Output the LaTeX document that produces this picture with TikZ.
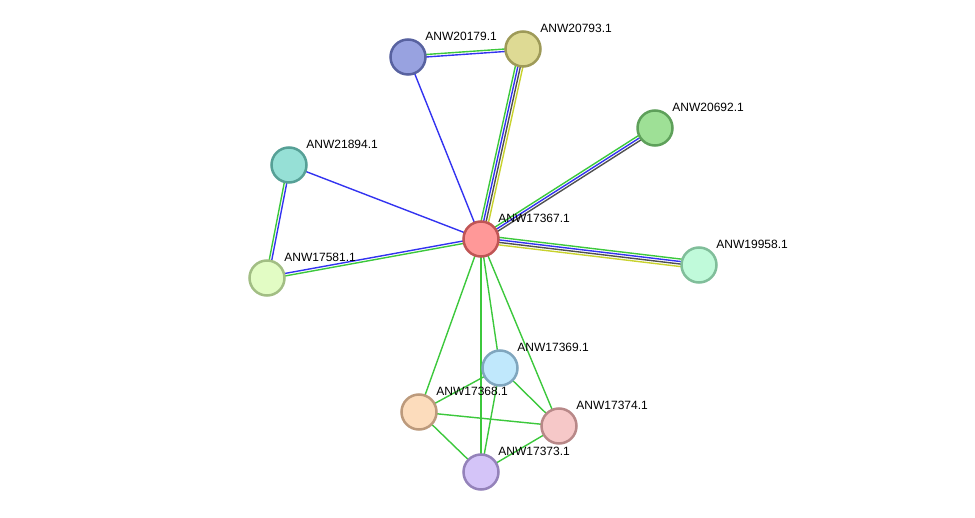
\documentclass[tikz,border=0pt]{standalone}
\usepackage{fontspec}
\setmainfont{Liberation Sans}
\usetikzlibrary{calc, backgrounds}

% link colours
\definecolor{lkgreen}{HTML}{3CC83C}
\definecolor{lkblue}{HTML}{3333F0}
\definecolor{lkdark}{HTML}{505050}
\definecolor{lkyellow}{HTML}{C8D22D}
% node colours (fill, border)
\definecolor{f17367}{HTML}{FF9898}\definecolor{d17367}{HTML}{C05555}
\definecolor{f20179}{HTML}{98A2E0}\definecolor{d20179}{HTML}{5862A0}
\definecolor{f20793}{HTML}{DEDA94}\definecolor{d20793}{HTML}{9E9A58}
\definecolor{f20692}{HTML}{9EE096}\definecolor{d20692}{HTML}{5EA05A}
\definecolor{f21894}{HTML}{96E0D6}\definecolor{d21894}{HTML}{56A096}
\definecolor{f17581}{HTML}{E2FCC4}\definecolor{d17581}{HTML}{A2BE84}
\definecolor{f19958}{HTML}{C0FADA}\definecolor{d19958}{HTML}{80BE9A}
\definecolor{f17369}{HTML}{C0E8FC}\definecolor{d17369}{HTML}{80A6BE}
\definecolor{f17368}{HTML}{FCDCBC}\definecolor{d17368}{HTML}{BC9A7C}
\definecolor{f17374}{HTML}{F6C8C8}\definecolor{d17374}{HTML}{B88888}
\definecolor{f17373}{HTML}{D4C4F8}\definecolor{d17373}{HTML}{9482BA}

\tikzset{
  prot/.style 2 args={circle, minimum size=35pt, inner sep=0pt, line width=2.5pt, fill=#1, draw=#2},
  link/.style={line width=1.4pt},
  lbl/.style={font=\fontsize{12}{14}\selectfont, inner sep=0pt, xshift=4pt, yshift=3pt}
}
% one strand of a link, shifted sideways by #3
\newcommand{\strand}[4]{\draw[link, #4] ($(#1)!#3!90:(#2)$) -- ($(#2)!#3!-90:(#1)$);}

\begin{document}
\begin{tikzpicture}[x=1pt, y=-1pt]
    \useasboundingbox (0,0) rectangle (975,518);
    \node[prot={f17367}{d17367}, label={[lbl]45:ANW17367.1}](n17367) at (481,239){};
    \node[prot={f20179}{d20179}, label={[lbl]45:ANW20179.1}](n20179) at (408,57){};
    \node[prot={f20793}{d20793}, label={[lbl]45:ANW20793.1}](n20793) at (523,49){};
    \node[prot={f20692}{d20692}, label={[lbl]45:ANW20692.1}](n20692) at (655,128){};
    \node[prot={f21894}{d21894}, label={[lbl]45:ANW21894.1}](n21894) at (289,165){};
    \node[prot={f17581}{d17581}, label={[lbl]45:ANW17581.1}](n17581) at (267,278){};
    \node[prot={f19958}{d19958}, label={[lbl]45:ANW19958.1}](n19958) at (699,265){};
    \node[prot={f17369}{d17369}, label={[lbl]45:ANW17369.1}](n17369) at (500,368){};
    \node[prot={f17368}{d17368}, label={[lbl]45:ANW17368.1}](n17368) at (419,412){};
    \node[prot={f17374}{d17374}, label={[lbl]45:ANW17374.1}](n17374) at (559,426){};
    \node[prot={f17373}{d17373}, label={[lbl]45:ANW17373.1}](n17373) at (481,472){};
    \begin{pgfonlayer}{background}
        \strand{n20179}{n20793}{1.25pt}{lkgreen}
        \strand{n20179}{n20793}{-1.25pt}{lkblue}
        \strand{n20179}{n17367}{0pt}{lkblue}
        \foreach \o/\c in {3.75pt/lkgreen, 1.25pt/lkblue, -1.25pt/lkdark, -3.75pt/lkyellow}{
            \strand{n17367}{n20793}{\o}{\c}
            \strand{n17367}{n19958}{\o}{\c}
        }
        \foreach \o/\c in {2.5pt/lkgreen, 0pt/lkblue, -2.5pt/lkdark}{
            \strand{n17367}{n20692}{\o}{\c}
        }
        \strand{n21894}{n17367}{0pt}{lkblue}
        \strand{n17581}{n21894}{1.25pt}{lkgreen}
        \strand{n17581}{n21894}{-1.25pt}{lkblue}
        \strand{n17367}{n17581}{1.25pt}{lkgreen}
        \strand{n17367}{n17581}{-1.25pt}{lkblue}
        % green-only links of the lower cluster
        \foreach \a/\b in {n17367/n17368, n17367/n17373, n17367/n17369, n17367/n17374,
                           n17369/n17368, n17369/n17374, n17369/n17373,
                           n17368/n17374, n17368/n17373, n17374/n17373}{
            \strand{\a}{\b}{0pt}{lkgreen}
        }
    \end{pgfonlayer}
\end{tikzpicture}
\end{document}
